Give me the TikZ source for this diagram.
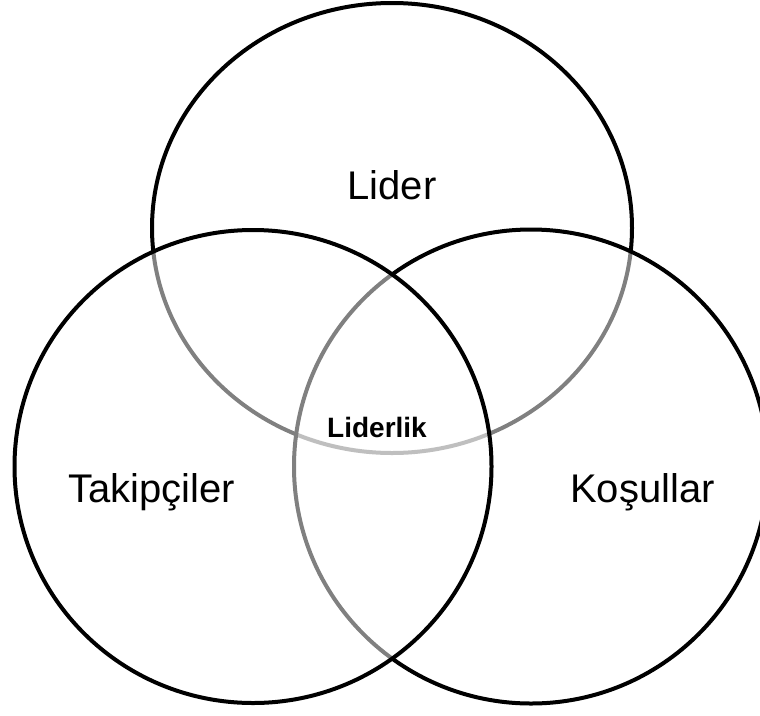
\documentclass[tikz,border=0pt]{standalone}
\usepackage{fontspec}
\setmainfont{Liberation Sans}
\begin{document}
\begin{tikzpicture}[x=1pt,y=-1pt,
  venn/.style={draw=black, line width=4pt, fill=white, fill opacity=0.5},
  lbl/.style={inner sep=0pt, anchor=base, font=\fontsize{40}{48}\selectfont},
  core/.style={inner sep=0pt, anchor=base, font=\fontsize{28}{34}\selectfont\bfseries}]
\useasboundingbox (0,0) rectangle (760,715);
\clip (0,0) rectangle (760,715);
\coordinate (ctop) at (392,228);
\coordinate (cright) at (531,466.5);
\coordinate (cleft) at (253,466.5);
\path[venn] (ctop) ellipse [x radius=240pt, y radius=225pt];
\path[venn] (cright) ellipse [x radius=237pt, y radius=237pt];
\path[venn] (cleft) ellipse [x radius=238.5pt, y radius=236.5pt];
\node[lbl] (lider) at (392,199) {Lider};
\node[lbl] (takip) at (151.5,502) {Takipçiler};
\node[lbl] (kosul) at (642.5,502) {Koşullar};
\node[core] (liderlik) at (377,437) {Liderlik};
\end{tikzpicture}
\end{document}
